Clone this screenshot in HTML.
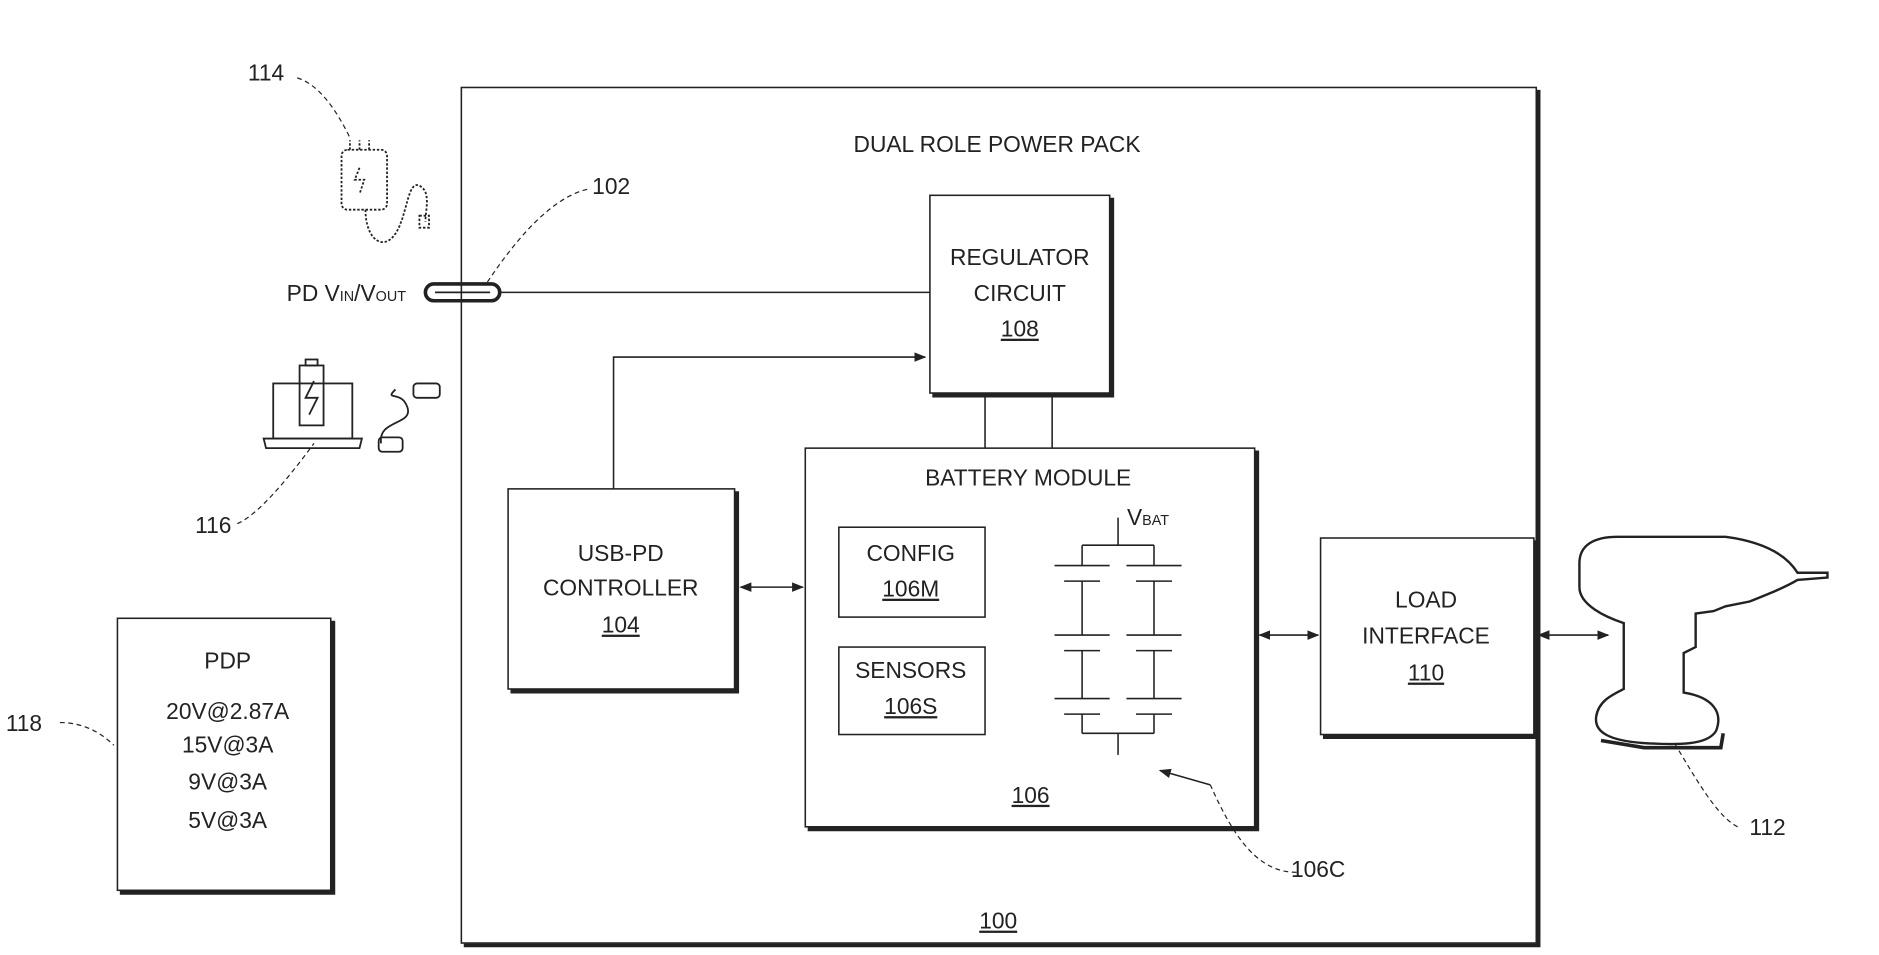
<!DOCTYPE html>
<html><head><style>html,body{margin:0;padding:0;background:#fff}svg{display:block}text{font-family:"Liberation Sans",sans-serif;fill:#222}</style></head>
<body>
<svg width="1879" height="955" viewBox="0 0 1568 797" preserveAspectRatio="none" xmlns="http://www.w3.org/2000/svg">
<defs><marker id="a" markerWidth="10" markerHeight="10" refX="9" refY="5" orient="auto-start-reverse" markerUnits="userSpaceOnUse"><path d="M0,1 L10,5 L0,9 z" fill="#222"/></marker></defs>
<g fill="none" stroke="#222" stroke-width="1.3">
<rect x="385" y="73" width="897" height="714" fill="#fff"/>
<path d="M1284,75 V789 H387" stroke-width="3"/>
<!-- shadows -->
<g stroke="#222" stroke-width="3.5">
<path d="M928,165 V330 H778"/>
<path d="M1049,376 V692 H674"/>
<path d="M615,410 V577 H426"/>
<path d="M824,442 V517 H702"/>
<path d="M824,542 V615 H702"/>
<path d="M1282,451 V615 H1104"/>
<path d="M278,518 V745 H100"/>
</g>
<rect x="776" y="163" width="150" height="165" fill="#fff"/>
<rect x="672" y="374" width="375" height="316" fill="#fff"/>
<rect x="424" y="408" width="189" height="167" fill="#fff"/>
<rect x="700" y="440" width="122" height="75"/>
<rect x="700" y="540" width="122" height="73"/>
<rect x="1102" y="449" width="178" height="164" fill="#fff"/>
<rect x="98" y="516" width="178" height="227" fill="#fff"/>
<path d="M822,328 V374 M878,328 V374"/>
<path d="M417,244 H776"/>
<path d="M512,408 V298 H772" marker-end="url(#a)"/>
<path d="M618,490 H670" marker-start="url(#a)" marker-end="url(#a)"/>
<path d="M1051,530 H1100" marker-start="url(#a)" marker-end="url(#a)"/>
<path d="M1284,530 H1342" marker-start="url(#a)" marker-end="url(#a)"/>
<!-- battery cells -->
<path d="M933,432 V455 M903,455 H963 M903,455 V472 M963,455 V472 M880,472 H926 M940,472 H986 M888,485 H918 M948,485 H978 M903,485 V530 M963,485 V530 M880,530 H926 M940,530 H986 M888,543 H918 M948,543 H978 M903,543 V583 M963,543 V583 M880,583 H926 M940,583 H986 M888,596 H918 M948,596 H978 M903,596 V612 M963,596 V612 M903,612 H963 M933,612 V630"/>
<path d="M1010,655 L968,643" marker-end="url(#a)"/>
<!-- connector -->
<rect x="355" y="237" width="62" height="14" rx="7" stroke-width="3"/>
<path d="M363,244 H409" stroke-width="1.5"/>
<!-- leader lines -->
<g stroke-dasharray="4,3" stroke-width="1">
<path d="M248,65 C265,70 280,90 292,115"/>
<path d="M490,158 C460,165 430,200 405,238"/>
<path d="M198,437 C215,430 240,400 262,370"/>
<path d="M50,603 C70,603 85,612 95,622"/>
<path d="M1450,690 C1430,680 1410,640 1385,600"/>
<path d="M1082,728 C1050,728 1030,700 1010,655"/>
</g>
<!-- charger 114 -->
<g stroke-width="1.5" stroke-dasharray="2,1.5">
<rect x="285" y="125" width="38" height="50" rx="5"/>
<path d="M292,125 V117 M300,125 V117 M308,125 V117"/>
<path d="M300,140 L296,150 H304 L300,162"/>
<path d="M305,175 C305,200 320,210 330,195 C340,180 340,150 350,155 C360,160 355,175 355,185"/>
<rect x="350" y="180" width="8" height="10"/>
</g>
<!-- laptop 116 -->
<g stroke-width="1.5">
<rect x="228" y="320" width="66" height="46"/>
<path d="M220,366 H302 L300,374 H222 Z"/>
<rect x="250" y="305" width="20" height="50"/>
<rect x="255" y="300" width="10" height="5"/>
<path d="M262,318 L255,332 H265 L258,346"/>
<path d="M318,370 C315,350 345,355 340,340 C335,325 320,335 330,325"/>
<rect x="345" y="320" width="22" height="12" rx="3"/>
<rect x="316" y="365" width="20" height="12" rx="3"/>
</g>
<!-- drill -->
<g stroke-width="2">
<path d="M1318,470 C1318,455 1330,448 1350,448 L1440,448 C1470,452 1490,462 1500,478 L1525,478 L1525,482 L1500,484 C1490,490 1475,496 1460,502 L1440,506 L1430,510 L1415,512 L1415,540 L1405,545 L1405,578 C1430,582 1438,595 1432,610 C1425,622 1400,622 1370,620 C1345,618 1330,612 1332,598 C1334,585 1345,580 1355,575 L1355,520 C1340,515 1318,505 1318,490 Z" fill="#fff"/>
<path d="M1438,612 L1436,624 L1372,624 L1336,618" stroke-width="3"/>
</g>
</g>
<g font-size="19" text-anchor="middle">
<text x="832" y="127">DUAL ROLE POWER PACK</text>
<text x="851" y="221">REGULATOR</text>
<text x="851" y="251">CIRCUIT</text>
<text x="851" y="281" text-decoration="underline">108</text>
<text x="858" y="405">BATTERY MODULE</text>
<text x="860" y="670" text-decoration="underline">106</text>
<text x="518" y="468">USB-PD</text>
<text x="518" y="497">CONTROLLER</text>
<text x="518" y="528" text-decoration="underline">104</text>
<text x="760" y="468">CONFIG</text>
<text x="760" y="498" text-decoration="underline">106M</text>
<text x="760" y="566">SENSORS</text>
<text x="760" y="596" text-decoration="underline">106S</text>
<text x="1190" y="507">LOAD</text>
<text x="1190" y="537">INTERFACE</text>
<text x="1190" y="568" text-decoration="underline">110</text>
<text x="190" y="558">PDP</text>
<text x="190" y="600">20V@2.87A</text>
<text x="190" y="628">15V@3A</text>
<text x="190" y="659">9V@3A</text>
<text x="190" y="691">5V@3A</text>
<text x="833" y="775" text-decoration="underline">100</text>
<text x="222" y="67">114</text>
<text x="510" y="162">102</text>
<text x="178" y="445">116</text>
<text x="20" y="610">118</text>
<text x="1475" y="697">112</text>
<text x="1100" y="732">106C</text>
<text x="958" y="438">V<tspan font-size="12">BAT</tspan></text>
<text x="289" y="251">PD V<tspan font-size="12">IN</tspan>/V<tspan font-size="12">OUT</tspan></text>
</g>
</svg>
</body></html>
